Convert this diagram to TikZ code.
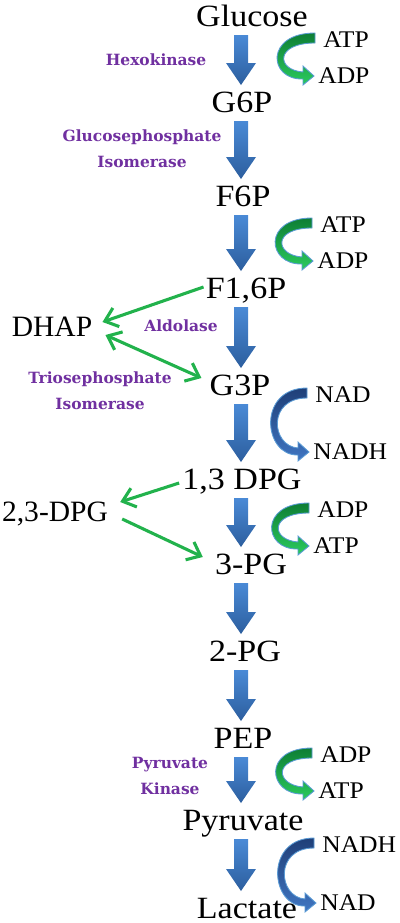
\documentclass[tikz,border=0pt]{standalone}
\usepackage{fontspec}
\setmainfont{Liberation Serif}
\newfontfamily\metabfont[FakeStretch=1.1]{Liberation Serif}
\newfontfamily\cofont[FakeStretch=1.07]{Liberation Serif}
\newfontfamily\enzymefont{DejaVu Serif}
\usetikzlibrary{arrows.meta, calc}
\definecolor{enzymepurple}{HTML}{7030A0}
\definecolor{flowtop}{HTML}{4A8AD6}
\definecolor{flowbottom}{HTML}{2C5E9E}
\definecolor{linkgreen}{HTML}{22B24C}
\definecolor{atptop}{HTML}{0E7E35}
\definecolor{atpbottom}{HTML}{2BCB5E}
\definecolor{nadtop}{HTML}{1F3F78}
\definecolor{nadbottom}{HTML}{4076C2}
\definecolor{curveborder}{HTML}{5B9BD5}

% block arrow down the main column
\newcommand{\flow}[2]{%
  \path ($(#1.base -| col)+(0,9)$) coordinate (fs)
        ($(#2.base -| col)+(0,-27)$) coordinate (fe);
  \shade[flowarrow] ($(fs)+(-7,0)$) -- ($(fe)+(-7,-22)$) -- ($(fe)+(-15,-22)$)
    -- (fe) -- ($(fe)+(15,-22)$) -- ($(fe)+(7,-22)$) -- ($(fs)+(7,0)$) -- cycle;}

% curved cofactor arrow from one label to the next
\newcommand{\cofactor}[3]{%
  \path ($(#1.base west)+(-8,-14)$) coordinate (cs)
        ($(#2.base west)+(-4,-7)$) coordinate (ct);
  \shadedraw[#3] (cs) .. controls ($(cs)+(-50,0)$) and ($(ct)+(-46,4)$) .. ($(ct)+(-11,3)$)
    -- ($(ct)+(-11,9)$) -- (ct) -- ($(ct)+(-11,-10)$) -- ($(ct)+(-11,-4)$)
    .. controls ($(ct)+(-38,-6)$) and ($(cs)+(-40,10)$) .. ($(cs)+(0,10)$) -- cycle;}

\begin{document}
\begin{tikzpicture}[
    x=0.025cm, y=-0.025cm,
    metab/.style={font=\metabfont\fontsize{22}{26}\selectfont, inner sep=0pt, anchor=base},
    side/.style={font=\fontsize{21}{25}\selectfont, inner sep=0pt, anchor=base},
    cofac/.style={font=\cofont\fontsize{17}{20}\selectfont, inner sep=0pt, anchor=base west},
    enzyme/.style={font=\enzymefont\bfseries\fontsize{11}{18.5}\selectfont,
      text=enzymepurple, align=center, inner sep=0pt},
    flowarrow/.style={top color=flowtop, bottom color=flowbottom},
    barb/.tip={Straight Barb[length=8.5pt, width=14pt]},
    link/.style={draw=linkgreen, line width=2.2pt, -barb},
    atpcurve/.style={top color=atptop, bottom color=atpbottom, draw=curveborder, line width=0.6pt},
    nadcurve/.style={top color=nadtop, bottom color=nadbottom, draw=curveborder, line width=0.6pt}
  ]
  \useasboundingbox (0,0) rectangle (400,923);
  \coordinate (col) at (241,0);

  % main pathway
  \node[metab] (glucose) at (252,26) {Glucose};
  \node[metab] (gsixp) at (242,112) {G6P};
  \node[metab] (fsixp) at (243,206) {F6P};
  \node[metab] (fbisp) at (246,298) {F1,6P};
  \node[metab] (gthreep) at (240,395) {G3P};
  \node[metab] (bpg) at (242,489) {1,3 DPG};
  \node[metab] (pgthree) at (251,574) {3-PG};
  \node[metab] (pgtwo) at (245,661) {2-PG};
  \node[metab] (pep) at (243,748) {PEP};
  \node[metab] (pyruvate) at (243,830) {Pyruvate};
  \node[metab] (lactate) at (247,918) {Lactate};

  \node[side] (dhap) at (52,336) {DHAP};
  \node[side] (dpg) at (55,521) {2,3-DPG};

  \flow{glucose}{gsixp}
  \flow{gsixp}{fsixp}
  \flow{fsixp}{fbisp}
  \flow{fbisp}{gthreep}
  \flow{gthreep}{bpg}
  \flow{bpg}{pgthree}
  \flow{pgthree}{pgtwo}
  \flow{pgtwo}{pep}
  \flow{pep}{pyruvate}
  \flow{pyruvate}{lactate}

  % enzymes
  \node[enzyme] (hexokinase) at (156,60) {Hexokinase};
  \node[enzyme] (gpi) at (142,149) {Glucosephosphate\\Isomerase};
  \node[enzyme] (aldolase) at (181,326) {Aldolase};
  \node[enzyme] (tpi) at (100,391) {Triosephosphate\\Isomerase};
  \node[enzyme] (pk) at (170,776) {Pyruvate\\Kinase};

  % cofactors
  \node[cofac] (atpa) at (323,47) {ATP};
  \node[cofac] (adpa) at (318,83) {ADP};
  \node[cofac] (atpb) at (320,232) {ATP};
  \node[cofac] (adpb) at (317,268) {ADP};
  \node[cofac] (nada) at (315,402) {NAD};
  \node[cofac] (nadha) at (313,459) {NADH};
  \node[cofac] (adpc) at (317,517) {ADP};
  \node[cofac] (atpc) at (313,553) {ATP};
  \node[cofac] (adpd) at (320,762) {ADP};
  \node[cofac] (atpd) at (318,798) {ATP};
  \node[cofac] (nadhb) at (322,852) {NADH};
  \node[cofac] (nadb) at (320,910) {NAD};

  \cofactor{atpa}{adpa}{atpcurve}
  \cofactor{atpb}{adpb}{atpcurve}
  \cofactor{nada}{nadha}{nadcurve}
  \cofactor{adpc}{atpc}{atpcurve}
  \cofactor{adpd}{atpd}{atpcurve}
  \cofactor{nadhb}{nadb}{nadcurve}

  % side branches
  \draw[link] ($(fbisp.base west)+(-2,-11)$) -- ($(dhap.base east)+(10,-14)$);
  \draw[link, barb-barb] ($(dhap.base east)+(13,-1)$) -- ($(gthreep.base west)+(-8,-17)$);
  \draw[link] ($(bpg.base west)+(-3,-6)$) -- ($(dpg.base east)+(12,-19)$);
  \draw[link] ($(dpg.base east)+(14,-2)$) -- ($(pgthree.base west)+(-12,-17)$);
\end{tikzpicture}
\end{document}
